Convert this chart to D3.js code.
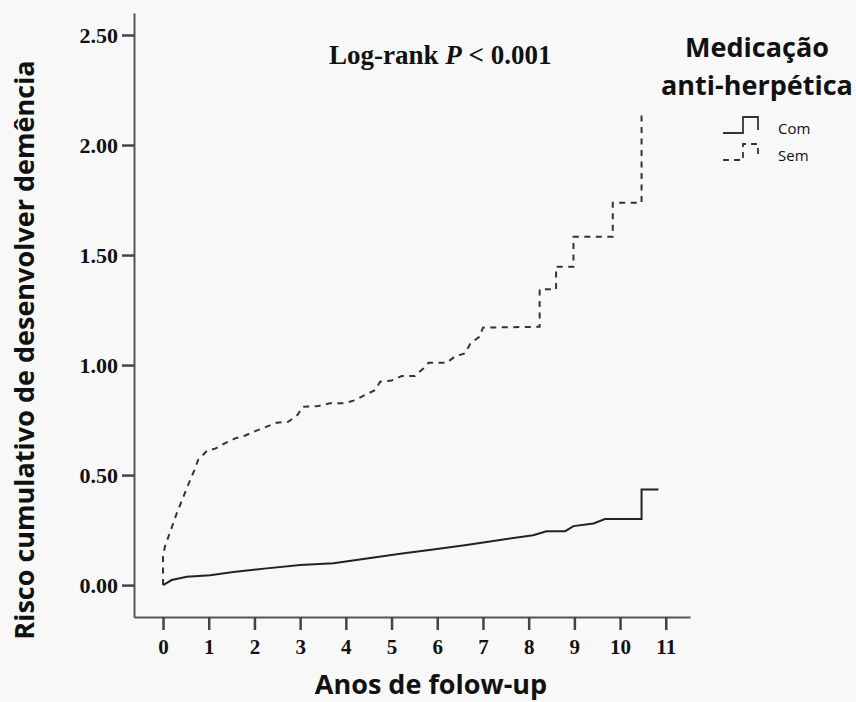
<!DOCTYPE html>
<html>
<head>
<meta charset="utf-8">
<script src="https://cdn.jsdelivr.net/npm/d3@7"></script>
<style>
  html, body { margin: 0; padding: 0; background: #f8f8f8; }
  svg { display: block; }
</style>
</head>
<body>
<svg id="chart" width="856" height="702"></svg>
<script>
// values: [years, cumulative risk]
const semPoints = [
  [0, 0], [0, 0.13], [0.04, 0.174], [0.30, 0.326], [0.52, 0.44], [0.70, 0.53],
  [0.77, 0.57], [0.96, 0.61], [1.14, 0.62], [1.36, 0.645], [1.58, 0.667],
  [1.80, 0.68], [2.02, 0.70], [2.27, 0.72], [2.49, 0.738], [2.74, 0.742],
  [2.95, 0.775], [3.05, 0.81], [3.40, 0.814], [3.65, 0.826], [3.95, 0.826],
  [4.20, 0.84], [4.42, 0.864], [4.64, 0.886], [4.75, 0.924], [5.0, 0.93],
  [5.22, 0.95], [5.51, 0.95], [5.70, 0.985], [5.81, 1.01], [6.21, 1.01],
  [6.39, 1.04], [6.61, 1.053], [6.73, 1.10], [6.92, 1.128], [7.0, 1.17],
  [8.24, 1.174], [8.24, 1.344], [8.6, 1.344], [8.6, 1.447], [8.98, 1.447],
  [8.98, 1.583], [9.84, 1.583], [9.84, 1.738], [10.47, 1.738], [10.47, 2.144],
  [10.53, 2.144]
];
const comPoints = [
  [0, 0], [0.19, 0.023], [0.52, 0.038], [1.03, 0.045], [1.54, 0.06],
  [2.27, 0.076], [3.0, 0.091], [3.73, 0.099], [4.46, 0.121], [5.19, 0.142],
  [5.91, 0.162], [6.64, 0.182], [7.37, 0.205], [8.10, 0.227], [8.39, 0.245],
  [8.80, 0.245], [8.98, 0.268], [9.42, 0.28], [9.67, 0.30], [10.47, 0.30],
  [10.47, 0.435], [10.84, 0.435]
];
const xTicks = [0, 1, 2, 3, 4, 5, 6, 7, 8, 9, 10, 11];
const yTicks = [0, 0.5, 1.0, 1.5, 2.0, 2.5];
const seriesNames = ['Com', 'Sem'];

const svg = d3.select('#chart');
const serif = "'Liberation Serif', 'Times New Roman', serif";
const sans = "'Open Sans', 'Noto Sans', sans-serif";

const x = d3.scaleLinear().domain([-0.635, 11.53]).range([134, 690]);
const y = d3.scaleLinear().domain([-0.145, 2.6]).range([617, 13]);

// axes
const xAxis = svg.append('g')
  .attr('transform', `translate(0,${y(-0.145)})`)
  .call(d3.axisBottom(x).tickValues(xTicks).tickFormat(d3.format('d')).tickSize(13).tickSizeOuter(0));
const yAxis = svg.append('g')
  .attr('transform', `translate(${x(-0.635)},0)`)
  .call(d3.axisLeft(y).tickValues(yTicks).tickFormat(d3.format('.2f')).tickSize(12).tickSizeOuter(0));

[xAxis, yAxis].forEach(g => {
  g.select('.domain').attr('stroke', '#555').attr('stroke-width', 2);
  g.selectAll('.tick line').attr('stroke', '#444').attr('stroke-width', 2.5);
  g.selectAll('.tick text')
    .attr('font-family', serif).attr('font-weight', 'bold')
    .attr('fill', '#111');
});
xAxis.selectAll('.tick text').attr('font-size', 21).attr('dy', '1.0em');
yAxis.selectAll('.tick text').attr('font-size', 22).attr('x', -16);

// curves
const line = d3.line().x(d => x(d[0])).y(d => y(d[1]));
svg.append('path').datum(comPoints)
  .attr('d', line).attr('fill', 'none')
  .attr('stroke', '#222').attr('stroke-width', 2);
svg.append('path').datum(semPoints)
  .attr('d', line).attr('fill', 'none')
  .attr('stroke', '#333').attr('stroke-width', 2)
  .attr('stroke-dasharray', '6,5.5');

// log-rank annotation
const lr = svg.append('text')
  .attr('x', 329).attr('y', 64)
  .attr('font-family', serif).attr('font-weight', 'bold')
  .attr('font-size', 27).attr('fill', '#111');
lr.append('tspan').text('Log-rank ');
lr.append('tspan').attr('font-style', 'italic').text('P');
lr.append('tspan').text(' < 0.001');

// legend
const legend = svg.append('g');
legend.append('text')
  .attr('x', 757).attr('y', 57).attr('text-anchor', 'middle')
  .attr('font-family', sans).attr('font-weight', 'bold')
  .attr('font-size', 27).attr('fill', '#111')
  .text('Medicação');
legend.append('text')
  .attr('x', 757).attr('y', 95).attr('text-anchor', 'middle')
  .attr('font-family', sans).attr('font-weight', 'bold')
  .attr('font-size', 27).attr('fill', '#111')
  .text('anti-herpética');

seriesNames.forEach((name, i) => {
  const oy = 133 + i * 27;
  legend.append('path')
    .attr('d', `M723,${oy}H743V${oy - 16}H758V${oy - 3}`)
    .attr('fill', 'none').attr('stroke', '#333').attr('stroke-width', 1.8)
    .attr('stroke-dasharray', i === 1 ? '6,5' : null);
  legend.append('text')
    .attr('x', 778).attr('y', oy + 1)
    .attr('font-family', sans).attr('font-size', 15).attr('fill', '#111')
    .text(name);
});

// axis titles
svg.append('text')
  .attr('x', 431).attr('y', 694).attr('text-anchor', 'middle')
  .attr('font-family', sans).attr('font-weight', 'bold')
  .attr('font-size', 27).attr('fill', '#111')
  .text('Anos de folow-up');
svg.append('text')
  .attr('transform', 'translate(34,350) rotate(-90)')
  .attr('text-anchor', 'middle')
  .attr('font-family', sans).attr('font-weight', 'bold')
  .attr('font-size', 27).attr('fill', '#111')
  .text('Risco cumulativo de desenvolver demência');
</script>
</body>
</html>
